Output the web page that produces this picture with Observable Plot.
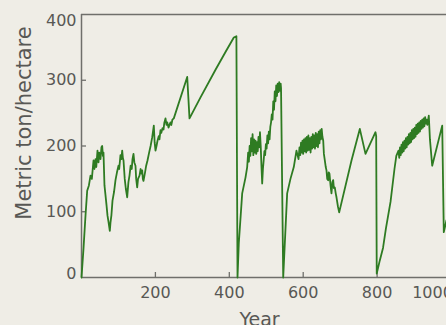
<!DOCTYPE html>
<html><head><meta charset="utf-8">
<script src="https://cdn.jsdelivr.net/npm/d3@7"></script>
<script src="https://cdn.jsdelivr.net/npm/@observablehq/plot@0.6"></script>
<style>
html,body{margin:0;padding:0;background:#efede6;overflow:hidden;}
#chart svg{display:block;}
</style></head><body><div id="chart"></div>
<script>
// Simulated forest biomass (metric ton/hectare) by year,
// one pair of arrays per regrowth cycle.
const yearsA = [0,5.4,10.8,15.4,20,24.4,28,32.5,35,37.9,40,43.3,46,48,51.4,54,56,58,59.5,62.2,65,67.7,70.4,73,76.6,78.5,81,83.9,88,92,96,100.1,102,105.5,108,110.1,112,113.7,117,120,123.7,127,129.9,133,136,138,140.7,143,146.1,148,150.7,153,157,160,162,164.3,166,167.8,172,175,178.6,183,187,191.3,195.7,198,200.3,203,205.7,209,211,213.8,216,219.2,222,224,227.3,230,232,235.5,238,240.9,243,246,249.8,286.1,292.3,322.1,362.7,389.7,412.2,419.2,422.2];
const biomassA = [0,44,94,132,140,155,150,178,165,180,168,193,175,190,180,198,200,185,190,140,125,110,94,85,71,84,95,117,130,148,160,170,165,186,180,193,182,178,150,135,122,145,155,170,165,180,188,175,170,150,137,150,155,165,158,163,150,147,160,170,178,190,200,213,231,205,193,200,208,215,210,224,220,227,225,235,242,232,236,228,232,236,232,240,242,305,242,274,316,343,365,367,0];

const yearsB = [425.7,434.9,443.8,448.4,451,453,455,457,459,461,463,465,467,469,471,473,475,477,479,481,483,485,487,489,491,493,495,497,499,501,503,505,507,509,511,513,515,517,519,521,523,525,527,529,531,533,535,537,539,540,545.9];
const biomassB = [52,128,152,168,190,176,200,185,212,192,218,186,210,190,208,188,206,192,214,198,221,200,170,143,165,178,192,186,203,196,216,204,222,210,229,236,248,240,268,255,283,268,292,276,295,282,297,284,295,288,0];

const yearsC = [556.6,565.5,574.5,581.8,587.3,590,592,594,596,598,600,602,604,606,608,610,612,614,616,618,620,622,624,626,628,630,632,634,636,638,640,642,644,646,648,650,652,654.2,656,658.5,661,663,665,667.6,669,671.1,674,676.5,679,681.1,683,685.5,688,690.1,694,697.4,730.7,753.2,768.6,795.6,797.5,799];
const biomassC = [128,150,168,193,180,198,186,205,190,208,188,210,192,212,190,214,193,216,194,212,190,214,196,218,198,216,196,220,200,218,198,222,204,224,210,226,214,208,188,178,168,163,150,148,160,158,140,128,145,148,136,137,128,122,108,99,178,226,188,221,215,6];

const yearsD = [807.3,816,824,836.3,847,852,857.9,860,862,864,866,868,870,872,874,876,878,880,882,884,886,888,890,892,894,896,898,900,902,904,906,908,910,912,914,916,918,920,922,924,926,928,930,932,934,936,939.9,943,949.1,976.2,980.5,987.8,1004];
const biomassD = [26,45,75,115,165,185,193,182,198,186,202,190,206,192,208,196,212,198,214,202,218,204,220,206,224,210,226,212,228,214,232,218,234,220,236,222,238,226,240,228,242,230,244,234,240,232,246,210,170,231,69,87,100];

const xTicks = [200, 400, 600, 800];
const xTickCut = [1000];
const yTicks = [100, 200, 300];
const yTickBottom = [0];
const yTickTop = [400];
const xLabel = "Year";
const yLabel = "Metric ton/hectare";

const years = [...yearsA, ...yearsB, ...yearsC, ...yearsD];
const biomass = [...biomassA, ...biomassB, ...biomassC, ...biomassD];
const data = years.map((yr, i) => ({year: yr, value: biomass[i]}));
const ink = "#6f6f6b", textInk = "#585855", green = "#2e7b22";

const chart = Plot.plot({
  width: 446, height: 325,
  marginLeft: 81, marginRight: 0, marginTop: 14, marginBottom: 48,
  style: {background: "transparent", fontFamily: "DejaVu Sans", color: textInk},
  x: {domain: [0, 987.8]},
  y: {domain: [0, 400]},
  marks: [
    Plot.ruleY([0, 400], {stroke: ink, strokeWidth: 1.5}),
    Plot.ruleX([0], {stroke: ink, strokeWidth: 1.5}),
    Plot.ruleX(xTicks, {x: d => d, y1: 0, y2: 0, insetTop: -5, stroke: ink, strokeWidth: 1.3}),
    Plot.ruleY(yTicks, {y: d => d, x1: 0, x2: 0, insetRight: -5, stroke: ink, strokeWidth: 1.3}),
    Plot.axisX(xTicks, {tickSize: 0, tickPadding: 9.5, fontSize: 16, fill: textInk, label: null}),
    Plot.text(xTickCut, {x: d => d, text: d => String(d), frameAnchor: "bottom", lineAnchor: "top", textAnchor: "middle", dy: 9.5, dx: -18.5, fontSize: 16, fill: textInk}),
    Plot.axisY(yTicks, {tickSize: 0, tickPadding: 5, fontSize: 16, fill: textInk, label: null}),
    Plot.text(yTickBottom, {y: d => d, text: d => String(d), frameAnchor: "left", textAnchor: "end", dx: -5, dy: -3.3, fontSize: 16, fill: textInk}),
    Plot.text(yTickTop, {y: d => d, text: d => String(d), frameAnchor: "left", textAnchor: "end", dx: -5, dy: 6, fontSize: 16, fill: textInk}),
    Plot.text([yLabel], {frameAnchor: "left", textAnchor: "middle", rotate: -90, dx: -57, dy: -23, fontSize: 21, fill: textInk}),
    Plot.text([xLabel], {frameAnchor: "bottom", lineAnchor: "top", textAnchor: "middle", dx: -4.5, dy: 34.7, fontSize: 19, fill: textInk}),
    Plot.line(data, {x: "year", y: "value", stroke: green, strokeWidth: 1.8, strokeLinejoin: "round"})
  ]
});
document.getElementById("chart").append(chart);
</script></body></html>
